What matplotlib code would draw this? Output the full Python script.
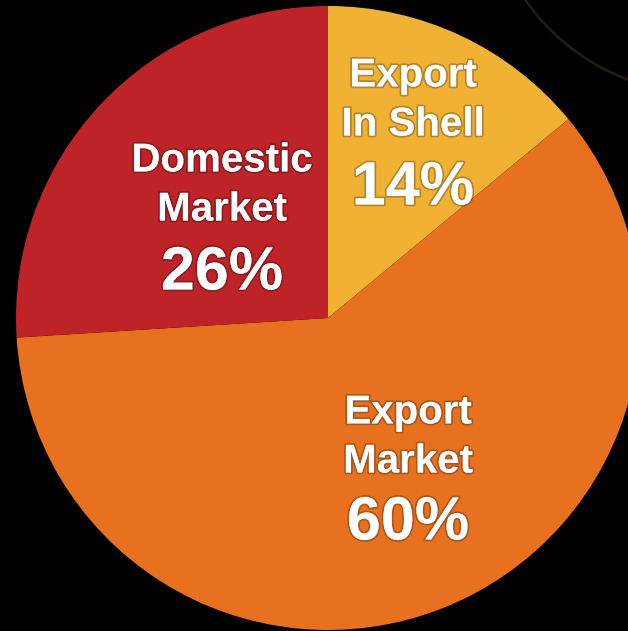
import matplotlib.pyplot as plt
import matplotlib.patches as mpatches
import matplotlib.patheffects as pe

# ── Data ──────────────────────────────────────────────────────────────────────
labels = ["Export\nIn Shell", "Export\nMarket", "Domestic\nMarket"]
shares = [14, 60, 26]
colors = ["#F1B133", "#E8711F", "#BE2327"]

# label anchor positions in pixel space (name block centre, % centre)
name_pos = [(413, 531), (408, 194), (222, 446)]
pct_pos = [(413, 442), (408, 107), (222, 357)]

# ── Figure ────────────────────────────────────────────────────────────────────
fig = plt.figure(figsize=(6.28, 6.31), dpi=100, facecolor="black")
ax = fig.add_axes([0, 0, 1, 1])
ax.set_facecolor("black")

# faint decorative ring at top right
ax.add_patch(mpatches.Circle((703, 754), 216, fill=False, edgecolor="#241b09", linewidth=2))

ax.pie(shares, colors=colors, startangle=90, counterclock=False,
       center=(328, 313), radius=312, frame=True,
       wedgeprops=dict(linewidth=0))
ax.set_xlim(0, 628)
ax.set_ylim(0, 631)
ax.set_aspect("equal")
ax.axis("off")

glow = [pe.withStroke(linewidth=2.5, foreground=(0, 0, 0, 0.25))]
for lab, v, (nx, ny), (px, py) in zip(labels, shares, name_pos, pct_pos):
    ax.text(nx, ny, lab, ha="center", va="center", color="white",
            fontsize=29, fontweight="bold", family="Liberation Sans",
            linespacing=1.37, path_effects=glow)
    ax.text(px, py, f"{v}%", ha="center", va="center", color="white",
            fontsize=44, fontweight="bold", family="Liberation Sans",
            path_effects=glow)

fig.savefig("out.png", dpi=100, facecolor="black")
